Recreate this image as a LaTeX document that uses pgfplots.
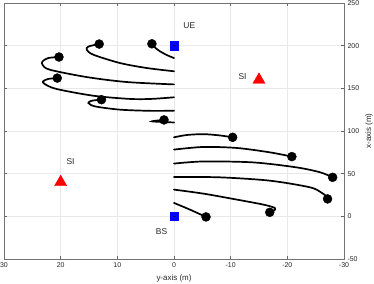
\documentclass[border=0pt]{standalone}
\usepackage{pgfplots}
\pgfplotsset{compat=1.18}
\usepackage{fontspec}
\setmainfont{Liberation Sans}
\begin{document}
\begin{tikzpicture}[x=1bp,y=1bp]
\useasboundingbox (-4bp,-25bp) rectangle (370bp,259bp);
\begin{axis}[
  scale only axis, width=340bp, height=256bp,
  at={(0,0)}, anchor=south west,
  xmin=-30, xmax=30, ymin=-50, ymax=250,
  x dir=reverse,
  xtick={-30,-20,...,30}, ytick={-50,0,...,250},
  xtick pos=both, ytick pos=both,
  xticklabel pos=left, yticklabel pos=right,
  tick align=inside, major tick length=3.4bp,
  axis line style={black!55, line width=0.5bp},
  tick style={black!60, line width=0.5bp},
  grid=major, major grid style={black!9, line width=0.5bp},
  /pgf/number format/assume math mode=true,
  ticklabel style={font=\fontsize{7}{8}\selectfont, text=black!85},
  xlabel={y-axis (m)}, ylabel={x-axis (m)},
  label style={font=\fontsize{8}{9}\selectfont, text=black!85},
  xlabel style={at={(axis description cs:0.5,-0.074)}, anchor=center},
  ylabel style={at={(axis description cs:1.074,0.5)}, anchor=center},
  clip=false,
]
% trajectories, left side
\addplot[black, line width=1.7bp, smooth, line cap=round] coordinates {(3.9,202.2) (3.3,197.5) (2.47,193.4) (1.2,188.8) (0,185.5)};
\addplot[black, line width=1.7bp, smooth, line cap=round] coordinates {(13.2,201.9) (15.1,199) (15.4,195.2) (14.2,189.3) (9.5,179.6) (4.8,173.8) (0,170)};
\addplot[black, line width=1.7bp, smooth, line cap=round] coordinates {(20.3,186.7) (22.2,185.5) (23.2,181.6) (23.2,177.6) (21.9,171.8) (15.4,163.2) (8.35,157.4) (0,154.6)};
\addplot[black, line width=1.7bp, smooth, line cap=round] coordinates {(20.6,162) (22.2,161) (23.1,158.2) (22.8,155) (20.7,149.2) (14.2,141.3) (7.8,137.6) (4,137.6) (0,139.5)};
\addplot[black, line width=1.7bp, smooth, line cap=round] coordinates {(12.8,136.7) (14.5,135.5) (15.1,132.8) (13.9,128.8) (9.5,125) (4,123.6) (0,123.8)};
\addplot[black, line width=1.7bp, smooth, line cap=round] coordinates {(1.76,113) (3.0,112.2) (3.9,111.3) (2.5,110.7) (0,110)};
% trajectories, right side
\addplot[black, line width=1.7bp, smooth, line cap=round] coordinates {(0,92.6) (-2.24,95.3) (-5.2,96.3) (-8.1,94.8) (-10.35,92.6)};
\addplot[black, line width=1.7bp, smooth, line cap=round] coordinates {(0,78.2) (-5.2,81.3) (-11.1,80.1) (-16.9,75) (-20.8,70)};
\addplot[black, line width=1.7bp, smooth, line cap=round] coordinates {(0,61.8) (-5.2,64.3) (-14,63.2) (-21.6,57.4) (-25.8,51.6) (-28,45.7)};
\addplot[black, line width=1.7bp, smooth, line cap=round] coordinates {(0,46.2) (-8.1,45.7) (-16.9,41.8) (-24,34) (-26.1,27.4) (-26.9,23.4) (-27.1,20.4)};
\addplot[black, line width=1.7bp, smooth, line cap=round] coordinates {(0,31.3) (-5.2,26.6) (-11.1,19.6) (-15.8,13.7) (-17.8,9.8) (-17.6,6.5) (-16.9,4.7)};
\addplot[black, line width=1.7bp, smooth, line cap=round] coordinates {(0,15.7) (-2.8,7.9) (-5.65,-0.7)};
% end points
\addplot[only marks, mark=*, mark size=4.5bp, black] coordinates {
 (3.9,202.2) (13.2,201.9) (20.3,186.7) (20.6,162) (12.8,136.7) (1.76,113)
 (-10.35,92.6) (-20.8,70) (-28,45.7) (-27.1,20.4) (-16.9,4.7) (-5.65,-0.7)};
% BS / UE
\addplot[only marks, mark=square*, mark size=4.1bp, blue, draw=blue] coordinates {(0,200) (0,0)};
\addplot[only marks, mark=*, mark size=0.5bp, black] coordinates {(0,200) (0,0)};
% SI
\addplot[only marks, mark=triangle*, mark size=7bp, red, draw=red] coordinates {(-15,160) (20,40)};
\node[font=\fontsize{8.5}{9}\selectfont, text=black!85] at (axis cs:-2.7,224) {UE};
\node[font=\fontsize{8.5}{9}\selectfont, text=black!85] at (axis cs:2.2,-18) {BS};
\node[font=\fontsize{8.5}{9}\selectfont, text=black!85] at (axis cs:-12.1,164) {SI};
\node[font=\fontsize{8.5}{9}\selectfont, text=black!85] at (axis cs:18.26,64) {SI};
\end{axis}
\end{tikzpicture}
\end{document}
